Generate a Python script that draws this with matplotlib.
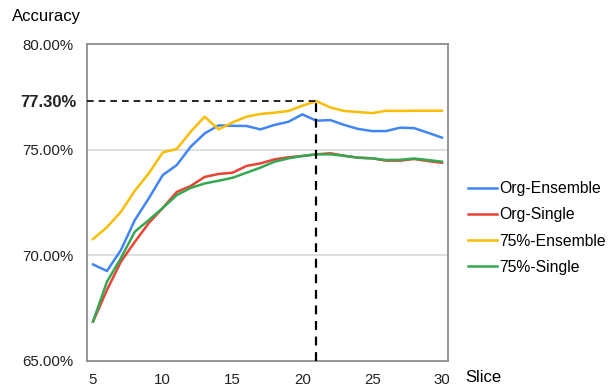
import matplotlib.pyplot as plt
import matplotlib.transforms as mtransforms

plt.rcParams['font.family'] = ['Liberation Sans', 'DejaVu Sans']

slices = list(range(5, 31))
org_ensemble = [69.57, 69.26, 70.25, 71.67, 72.70, 73.80, 74.27, 75.14, 75.77, 76.15,
                76.13, 76.12, 75.96, 76.17, 76.32, 76.67, 76.37, 76.40, 76.17, 75.98,
                75.88, 75.88, 76.04, 76.02, 75.80, 75.57]
org_single = [66.86, 68.36, 69.70, 70.64, 71.53, 72.24, 73.00, 73.28, 73.71, 73.85,
              73.91, 74.23, 74.35, 74.54, 74.64, 74.70, 74.78, 74.83, 74.71, 74.62,
              74.59, 74.48, 74.48, 74.56, 74.46, 74.38]
p75_ensemble = [70.77, 71.33, 72.06, 73.06, 73.88, 74.87, 75.03, 75.85, 76.56, 75.96,
                76.29, 76.56, 76.69, 76.75, 76.83, 77.08, 77.30, 77.00, 76.83, 76.78,
                76.73, 76.84, 76.83, 76.84, 76.84, 76.84]
p75_single = [66.86, 68.75, 69.87, 71.12, 71.67, 72.24, 72.85, 73.19, 73.40, 73.53,
              73.67, 73.91, 74.15, 74.43, 74.59, 74.70, 74.78, 74.78, 74.71, 74.62,
              74.59, 74.51, 74.52, 74.58, 74.51, 74.43]
labels = ['Org-Ensemble', 'Org-Single', '75%-Ensemble', '75%-Single']
colors = ['#4285F4', '#EA4335', '#FBBC04', '#34A853']

best_slice = 21
best_acc = 77.30
yticks = [65, 70, 75, 80]
xticks = [5, 10, 15, 20, 25, 30]

fig = plt.figure(figsize=(6.1, 3.86), dpi=100)
ax = fig.add_axes([0.1426, 0.0648, 0.5918, 0.8212])

for v in [70, 75]:
    ax.axhline(v, color='#d9d9d9', lw=1.2, zorder=1)

for ys, lab, c in zip([org_ensemble, org_single, p75_ensemble, p75_single], labels, colors):
    ax.plot(slices, ys, color=c, lw=1.8, label=lab, zorder=3)

x0, x1 = 4.57, 30.43
ax.plot([x0, best_slice], [best_acc, best_acc], color='black', lw=1.2,
        ls=(0, (4, 3)), zorder=4)
ax.plot([best_slice, best_slice], [65, best_acc], color='black', lw=1.6,
        ls=(0, (4, 3)), zorder=4)

ax.set_xlim(x0, x1)
ax.set_ylim(65, 80)
ax.set_xticks(xticks)
ax.set_xticklabels([str(t) for t in xticks], fontsize=10.8)
ax.set_yticks(yticks + [best_acc])
ax.set_yticklabels(['%.2f%%' % t for t in yticks] + ['%.2f%%' % best_acc], fontsize=10.8)
ax.tick_params(axis='y', length=0, pad=10, colors='#222222')
ax.tick_params(axis='x', length=0, pad=9, colors='#222222')
bold = ax.get_yticklabels()[-1]
bold.set_fontweight('bold')
bold.set_fontsize(12)
bold.set_transform(bold.get_transform() + mtransforms.ScaledTranslation(3 / 100, 0, fig.dpi_scale_trans))

for s in ax.spines.values():
    s.set_color('#8c8c8c')
    s.set_linewidth(1.3)

fig.text(12 / 610, 1 - 16 / 386, 'Accuracy', fontsize=12, va='center', ha='left')
fig.text(465 / 610, 1 - 378 / 386, 'Slice', fontsize=12, va='center', ha='left')

fig.legend(loc='center left', bbox_to_anchor=(462 / 610, 1 - 228 / 386), frameon=False,
           fontsize=11.3, handlelength=1.8, handletextpad=0.15, labelspacing=0.72,
           borderaxespad=0)

fig.savefig('out.png', dpi=100)
